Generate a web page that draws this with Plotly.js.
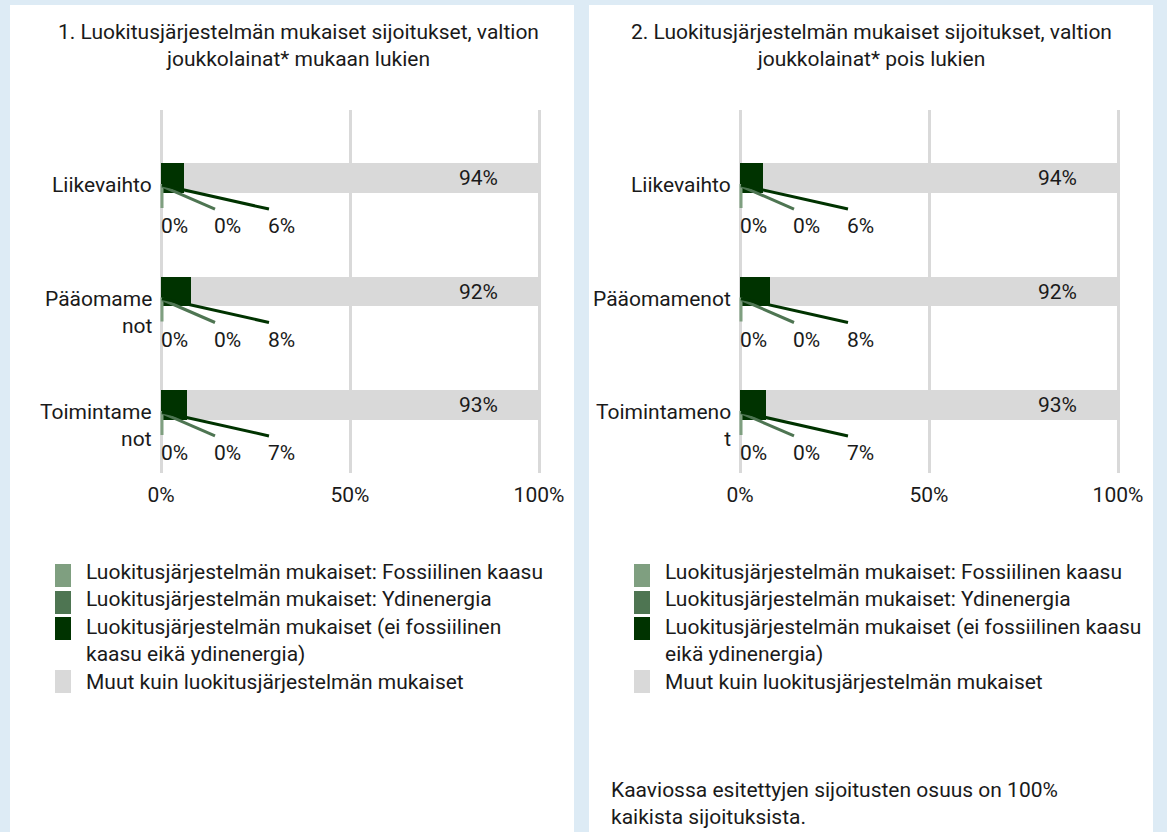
<!DOCTYPE html>
<html><head><meta charset="utf-8">
<script src="https://cdn.plot.ly/plotly-3.0.1.min.js"></script>
<style>html,body{margin:0;padding:0;background:#DDEBF5;} #chart{width:1167px;height:832px;}</style>
</head><body><div id="chart"></div>
<script>
// ---- data ----
const categories = ['Liikevaihto', 'Pääomamenot', 'Toimintamenot'];
const yLabelsLeft = ['Liikevaihto', 'Pääomame<br>not', 'Toimintame<br>not'];
const yLabelsRight = ['Liikevaihto', 'Pääomamenot', 'Toimintameno<br>t'];

const leftFossil  = [0, 0, 0];
const leftNuclear = [0, 0, 0];
const leftAligned = [6, 8, 7];
const leftOther   = [94, 92, 93];

const rightFossil  = [0, 0, 0];
const rightNuclear = [0, 0, 0];
const rightAligned = [6, 8, 7];
const rightOther   = [94, 92, 93];

const namesLeft = [
  'Luokitusjärjestelmän mukaiset: Fossiilinen kaasu',
  'Luokitusjärjestelmän mukaiset: Ydinenergia',
  'Luokitusjärjestelmän mukaiset (ei fossiilinen<br>kaasu eikä ydinenergia)',
  'Muut kuin luokitusjärjestelmän mukaiset'
];
const namesRight = [
  'Luokitusjärjestelmän mukaiset: Fossiilinen kaasu',
  'Luokitusjärjestelmän mukaiset: Ydinenergia',
  'Luokitusjärjestelmän mukaiset (ei fossiilinen kaasu<br>eikä ydinenergia)',
  'Muut kuin luokitusjärjestelmän mukaiset'
];

const xTickVals = [0, 50, 100];
const xTickText = ['0%', '50%', '100%'];

const titleLeft  = '1. Luokitusjärjestelmän mukaiset sijoitukset, valtion<br>joukkolainat* mukaan lukien';
const titleRight = '2. Luokitusjärjestelmän mukaiset sijoitukset, valtion<br>joukkolainat* pois lukien';
const noteText   = 'Kaaviossa esitettyjen sijoitusten osuus on 100%<br>kaikista sijoituksista.';

// ---- styles ----
const colors = ['#7F9F80', '#4E7552', '#003300', '#D9D9D9'];
const FS = 21;
const TXT = '#1a1a1a';
const W = 1167, H = 832;

const panels = [
  {series: [leftFossil, leftNuclear, leftAligned, leftOther], names: namesLeft, ylabels: yLabelsLeft,
   xa: 'x', ya: 'y', legX: 55},
  {series: [rightFossil, rightNuclear, rightAligned, rightOther], names: namesRight, ylabels: yLabelsRight,
   xa: 'x2', ya: 'y2', legX: 634}
];

const traces = [];
const shapes = [];
const annotations = [];

// white panels
shapes.push({type: 'rect', xref: 'paper', yref: 'paper', layer: 'below',
  x0: 10 / W, x1: 574 / W, y0: 0, y1: 1 - 5 / H, fillcolor: '#ffffff', line: {width: 0}});
shapes.push({type: 'rect', xref: 'paper', yref: 'paper', layer: 'below',
  x0: 589 / W, x1: 1153 / W, y0: 0, y1: 1 - 5 / H, fillcolor: '#ffffff', line: {width: 0}});

// leader line geometry (pixel offsets) for the three small series
const leadEndX = [0, 53, 107];
const leadStartY = [-6, -8, -7];
const leadEndY = [-30, -31, -31];
const smallLabelShift = [-2, 51, 105];

// legend layout (pixel rows)
const legSwatchTop = [564, 591, 617, 670];
const legTextTop = [558, 585, 613, 668];

panels.forEach(p => {
  p.series.forEach((vals, s) => {
    traces.push({
      type: 'bar', orientation: 'h', x: vals, y: categories,
      name: p.names[s].replace('<br>', ' '), showlegend: false,
      xaxis: p.xa, yaxis: p.ya,
      marker: {color: colors[s], line: {width: 0}},
      hoverinfo: 'skip'
    });
    // legend entry
    shapes.push({type: 'rect', xref: 'paper', yref: 'paper',
      x0: p.legX / W, x1: (p.legX + 16) / W,
      y0: 1 - (legSwatchTop[s] + 23) / H, y1: 1 - legSwatchTop[s] / H,
      fillcolor: colors[s], line: {width: 0}});
    annotations.push({xref: 'paper', yref: 'paper', x: (p.legX + 29) / W, y: 1 - legTextTop[s] / H,
      text: p.names[s], showarrow: false, xanchor: 'left', yanchor: 'top', align: 'left',
      font: {size: FS, color: TXT}});
  });
  categories.forEach((cat, i) => {
    let cum = 0;
    const starts = p.series.map(v => { const st = cum; cum += v[i]; return st; });
    // y-axis label
    annotations.push({xref: p.xa, yref: p.ya, x: 0, y: cat, text: p.ylabels[i],
      showarrow: false, xanchor: 'right', yanchor: 'top', align: 'right',
      xshift: -7, yshift: 7, font: {size: FS, color: TXT}});
    // small series labels with leader lines
    for (let s = 0; s < 3; s++) {
      const v = p.series[s][i];
      annotations.push({xref: p.xa, yref: p.ya, x: starts[s], y: cat, text: v + '%',
        showarrow: false, xanchor: 'left', yanchor: 'middle',
        xshift: smallLabelShift[s], yshift: -48, font: {size: FS, color: TXT}});
      shapes.push({type: 'line', xref: p.xa, yref: p.ya,
        xsizemode: 'pixel', ysizemode: 'pixel', xanchor: starts[s], yanchor: cat,
        x0: 1, x1: leadEndX[s] + 1, y0: leadStartY[s], y1: leadEndY[s],
        line: {color: colors[s], width: 3}});
    }
    // large series label
    const vOther = p.series[3][i];
    annotations.push({xref: p.xa, yref: p.ya, x: starts[3] + vOther, y: cat, text: vOther + '%',
      showarrow: false, xanchor: 'center', yanchor: 'middle', xshift: -61,
      font: {size: FS, color: TXT}});
  });
});

// titles and note
annotations.push({xref: 'paper', yref: 'paper', x: 298 / W, y: 1 - 18 / H, text: titleLeft,
  showarrow: false, xanchor: 'center', yanchor: 'top', align: 'center', font: {size: FS, color: TXT}});
annotations.push({xref: 'paper', yref: 'paper', x: 871 / W, y: 1 - 18 / H, text: titleRight,
  showarrow: false, xanchor: 'center', yanchor: 'top', align: 'center', font: {size: FS, color: TXT}});
annotations.push({xref: 'paper', yref: 'paper', x: 609 / W, y: 1 - 776 / H, text: noteText,
  showarrow: false, xanchor: 'left', yanchor: 'top', align: 'left', font: {size: FS, color: TXT}});

const pxPerUnit = 378 / 100;
function xDomain(zeroPx) {
  return [(zeroPx - pxPerUnit) / W, (zeroPx + 100 * pxPerUnit + pxPerUnit) / W];
}
const yDomain = [1 - 473 / H, 1 - 110 / H];

function xAxis(zeroPx, anchor) {
  return {domain: xDomain(zeroPx), range: [-1, 101], anchor: anchor,
    tickvals: xTickVals, ticktext: xTickText, ticks: '', ticklabelstandoff: 7,
    showgrid: true, gridcolor: '#D9D9D9', gridwidth: 3, zeroline: false, showline: false,
    tickfont: {size: FS, color: TXT}, fixedrange: true};
}
function yAxis(anchor) {
  return {domain: yDomain, type: 'category', categoryorder: 'array', categoryarray: categories,
    range: [2.6, -0.6], anchor: anchor, showticklabels: false, showgrid: false,
    zeroline: false, showline: false, ticks: '', fixedrange: true};
}

const layout = {
  width: W, height: H,
  margin: {l: 0, r: 0, t: 0, b: 0},
  paper_bgcolor: '#DDEBF5', plot_bgcolor: '#ffffff',
  font: {family: 'Roboto, sans-serif', size: FS, color: TXT},
  barmode: 'stack', bargap: 0.736,
  showlegend: false,
  xaxis: xAxis(161, 'y'),
  yaxis: yAxis('x'),
  xaxis2: xAxis(740, 'y2'),
  yaxis2: yAxis('x2'),
  shapes: shapes,
  annotations: annotations
};

Plotly.newPlot('chart', traces, layout, {displayModeBar: false, staticPlot: true});
</script>
</body></html>
